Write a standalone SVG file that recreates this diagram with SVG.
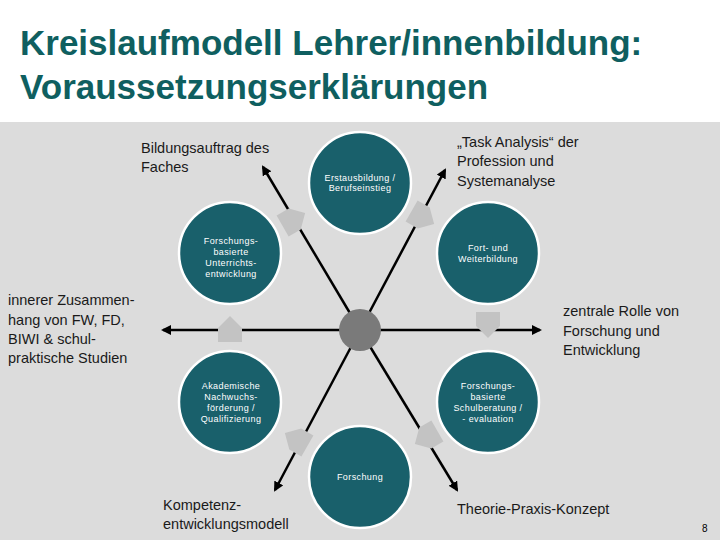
<svg xmlns="http://www.w3.org/2000/svg" width="720" height="540" viewBox="0 0 720 540">
<defs>
<style>
.title{font-family:"Liberation Sans",Arial,sans-serif;font-size:35px;font-weight:bold;fill:#0f5f60}
.lbl{font-family:"Liberation Sans",Arial,sans-serif;font-size:14.5px;fill:#1a1a1a}
.nt{font-family:"Liberation Sans",Arial,sans-serif;font-size:9px;fill:#ffffff;text-anchor:middle;letter-spacing:0.4px}
.node{fill:#19606b;stroke:#ffffff;stroke-width:2.5}
.ln{stroke:#000;stroke-width:2.5;fill:none}
.blk{fill:#c3c3c3}
</style>
<marker id="ah" viewBox="0 0 10 10" refX="8" refY="5" markerWidth="4" markerHeight="4" orient="auto"><path d="M0,0 L10,5 L0,10 Z" fill="#000"/></marker>
<path id="bk" d="M-12,12 L-12,-2 L0,-14 L12,-2 L12,12 Z"/>
</defs>
<rect width="720" height="540" fill="#ffffff"/>
<rect y="122" width="720" height="418" fill="#dcdcdc"/>
<text class="title" x="20" y="55">Kreislaufmodell Lehrer/innenbildung:</text>
<text class="title" x="20" y="99">Voraussetzungserklärungen</text>
<g id="connectors">
<line class="ln" x1="360" y1="330" x2="540" y2="330" marker-end="url(#ah)"/>
<line class="ln" x1="360" y1="330" x2="163" y2="330" marker-end="url(#ah)"/>
<line class="ln" x1="360" y1="330" x2="263" y2="167" marker-end="url(#ah)"/>
<line class="ln" x1="360" y1="330" x2="445" y2="170" marker-end="url(#ah)"/>
<line class="ln" x1="360" y1="330" x2="275" y2="490" marker-end="url(#ah)"/>
<line class="ln" x1="360" y1="330" x2="457" y2="490" marker-end="url(#ah)"/>
<use href="#bk" class="blk" transform="translate(230,330)"/>
<use href="#bk" class="blk" transform="translate(293,220) rotate(60)"/>
<use href="#bk" class="blk" transform="translate(422,217) rotate(120)"/>
<use href="#bk" class="blk" transform="translate(488,324) rotate(180)"/>
<use href="#bk" class="blk" transform="translate(427,437) rotate(240)"/>
<use href="#bk" class="blk" transform="translate(297,440) rotate(300)"/>
</g>
<g id="center"><circle cx="360" cy="330" r="21" fill="#7a7a7a"/></g>
<g id="n-erst"><circle class="node" cx="360" cy="183" r="51"/><text class="nt" x="360" y="181">Erstausbildung /</text><text class="nt" x="360" y="191">Berufseinstieg</text></g>
<g id="n-fort"><circle class="node" cx="488" cy="253" r="51"/><text class="nt" x="488" y="251">Fort- und</text><text class="nt" x="488" y="262">Weiterbildung</text></g>
<g id="n-schul"><circle class="node" cx="488" cy="402" r="51"/><text class="nt" x="488" y="389">Forschungs-</text><text class="nt" x="488" y="400">basierte</text><text class="nt" x="488" y="411">Schulberatung /</text><text class="nt" x="488" y="422">- evaluation</text></g>
<g id="n-forsch"><circle class="node" cx="360" cy="477" r="51"/><text class="nt" x="360" y="480">Forschung</text></g>
<g id="n-akad"><circle class="node" cx="230" cy="402" r="51"/><text class="nt" x="231" y="389">Akademische</text><text class="nt" x="231" y="400">Nachwuchs-</text><text class="nt" x="231" y="411">förderung /</text><text class="nt" x="231" y="422">Qualifizierung</text></g>
<g id="n-unt"><circle class="node" cx="230" cy="253" r="51"/><text class="nt" x="231" y="244">Forschungs-</text><text class="nt" x="231" y="255">basierte</text><text class="nt" x="231" y="266">Unterrichts-</text><text class="nt" x="231" y="277">entwicklung</text></g>
<g id="labels">
<text class="lbl" x="141" y="153">Bildungsauftrag des</text>
<text class="lbl" x="141" y="172">Faches</text>
<text class="lbl" x="457" y="147">„Task Analysis“ der</text>
<text class="lbl" x="457" y="166">Profession und</text>
<text class="lbl" x="457" y="186">Systemanalyse</text>
<text class="lbl" x="8" y="305">innerer Zusammen-</text>
<text class="lbl" x="8" y="325">hang von FW, FD,</text>
<text class="lbl" x="8" y="344">BIWI &amp; schul-</text>
<text class="lbl" x="8" y="363">praktische Studien</text>
<text class="lbl" x="563" y="316">zentrale Rolle von</text>
<text class="lbl" x="563" y="336">Forschung und</text>
<text class="lbl" x="563" y="355">Entwicklung</text>
<text class="lbl" x="163" y="510">Kompetenz-</text>
<text class="lbl" x="163" y="529">entwicklungsmodell</text>
<text class="lbl" x="457" y="514">Theorie-Praxis-Konzept</text>
<text x="702" y="532" style="font-family:'Liberation Sans',Arial,sans-serif;font-size:10px;fill:#000">8</text>
</g>
</svg>
